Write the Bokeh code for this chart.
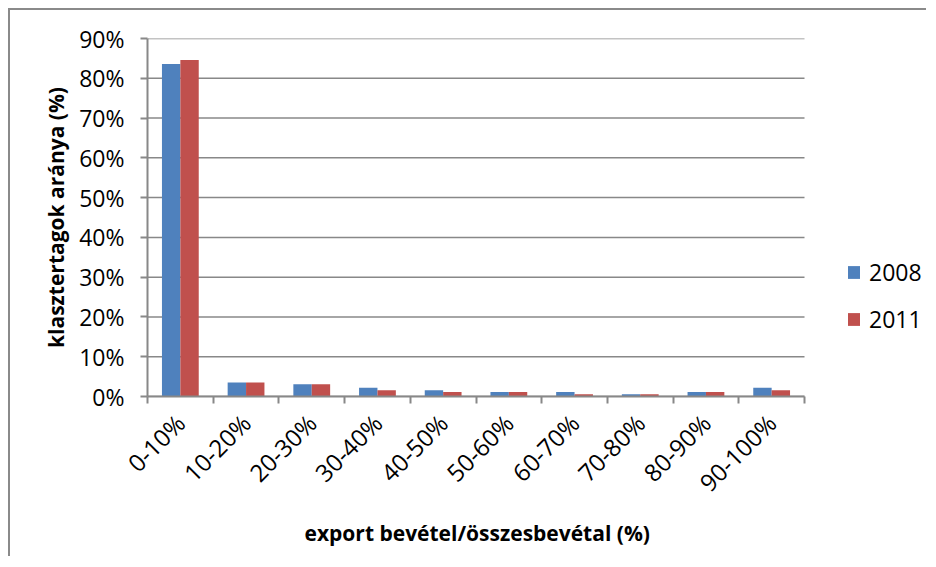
import math
from bokeh.plotting import figure
from bokeh.models import (ColumnDataSource, FixedTicker, Range1d, Legend, LegendItem,
                          PrintfTickFormatter, Title)
from bokeh.transform import dodge
from bokeh.embed import file_html
from bokeh.resources import INLINE

categories = ["0-10%", "10-20%", "20-30%", "30-40%", "40-50%",
              "50-60%", "60-70%", "70-80%", "80-90%", "90-100%"]
values_2008 = [83.6, 3.5, 3.1, 2.2, 1.6, 1.1, 1.1, 0.55, 1.1, 2.2]
values_2011 = [84.6, 3.5, 3.1, 1.6, 1.1, 1.1, 0.55, 0.55, 1.1, 1.6]
series_names = ["2008", "2011"]
y_ticks = [0, 10, 20, 30, 40, 50, 60, 70, 80, 90]
x_title = "export bevétel/összesbevétal (%)"
y_title = "klasztertagok aránya (%)"

FONT = "Open Sans"
GRAY = "#888888"
BLUE = "#4F81BD"
RED = "#C0504D"

n = len(categories)
pos = [i + 0.5 for i in range(n)]
src = ColumnDataSource(dict(x=pos, cat=categories, v08=values_2008, v11=values_2011))
grid_src = ColumnDataSource(dict(y=y_ticks, x0=[0] * len(y_ticks), x1=[n] * len(y_ticks)))

W, H = 918, 548
BL, BR = 137, 0
frame_w = W - BL - BR
cat_px = 65.7  # pixel width of one category in the reference
x_end = frame_w / cat_px

p = figure(width=W, height=H, output_backend="svg", toolbar_location=None,
           x_range=Range1d(0, x_end), y_range=Range1d(0, 90),
           min_border_left=BL, min_border_top=28, min_border_bottom=162,
           min_border_right=BR)
p.styles = {"margin-left": "8px", "margin-top": "8px",
            "border-left": "2px solid #8a8a8a", "border-top": "2px solid #8a8a8a"}
p.outline_line_color = None
p.background_fill_color = "white"
p.border_fill_color = "white"
p.xgrid.grid_line_color = None
p.ygrid.grid_line_color = None

# horizontal gridlines limited to the category span
p.segment(x0="x0", x1="x1", y0="y", y1="y", source=grid_src,
          line_color=GRAY, line_width=1.5, level="underlay")

r1 = p.vbar(x=dodge("x", -0.14, range=p.x_range), top="v08", width=0.28, source=src,
            fill_color=BLUE, line_color=None)
r2 = p.vbar(x=dodge("x", 0.14, range=p.x_range), top="v11", width=0.28, source=src,
            fill_color=RED, line_color=None)

# x axis
xa = p.xaxis[0]
xa.bounds = (0, n)
xa.ticker = FixedTicker(ticks=pos, minor_ticks=list(range(n + 1)))
xa.major_label_overrides = {x: c for x, c in zip(pos, categories)}
xa.major_tick_line_color = None
xa.minor_tick_line_color = GRAY
xa.minor_tick_line_width = 2
xa.minor_tick_out = 7
xa.minor_tick_in = 0
xa.axis_line_color = GRAY
xa.axis_line_width = 2
xa.major_label_orientation = math.pi / 4
xa.major_label_text_font = FONT
xa.major_label_text_font_size = "24px"
xa.major_label_text_color = "black"
xa.major_label_standoff = 15

# x axis title, centred under the category span
xt = Title(text=x_title, align="left", offset=157, standoff=8,
           text_font=FONT, text_font_style="bold", text_font_size="21px",
           text_color="black")
p.add_layout(xt, "below")

# y axis
ya = p.yaxis[0]
ya.ticker = FixedTicker(ticks=y_ticks, minor_ticks=[])
ya.formatter = PrintfTickFormatter(format="%d%%")
ya.axis_line_color = GRAY
ya.axis_line_width = 2
ya.major_tick_line_color = GRAY
ya.major_tick_line_width = 2
ya.major_tick_out = 7
ya.major_tick_in = 0
ya.minor_tick_line_color = None
ya.major_label_text_font = FONT
ya.major_label_text_font_size = "23px"
ya.major_label_text_color = "black"
ya.major_label_standoff = 16
ya.axis_label = y_title
ya.axis_label_text_font = FONT
ya.axis_label_text_font_style = "bold"
ya.axis_label_text_font_size = "21px"
ya.axis_label_text_color = "black"
ya.axis_label_standoff = 6

legend = Legend(items=[LegendItem(label=series_names[0], renderers=[r1]),
                       LegendItem(label=series_names[1], renderers=[r2])],
                location=(699, 61), orientation="vertical")
legend.border_line_color = None
legend.background_fill_alpha = 0
legend.padding = 0
legend.margin = 0
legend.glyph_width = 15
legend.glyph_height = 16
legend.label_height = 24
legend.spacing = 15
legend.label_standoff = 8
legend.label_text_font = FONT
legend.label_text_font_size = "23px"
legend.label_text_color = "black"
p.add_layout(legend, "center")

open("out.html", "w").write(file_html(p, INLINE))
